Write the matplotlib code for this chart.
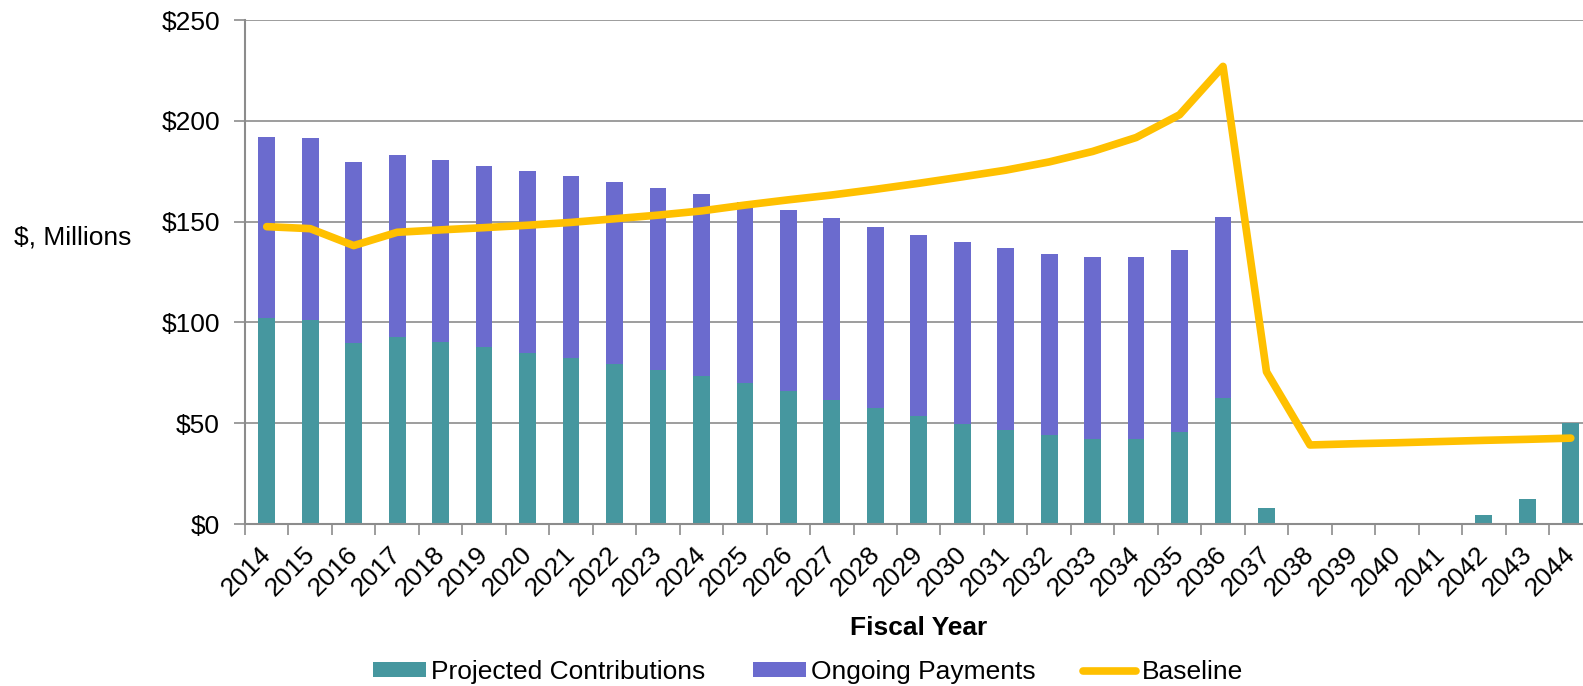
import matplotlib
matplotlib.use("Agg")
import matplotlib.pyplot as plt
import matplotlib.transforms as mtransforms
import numpy as np

plt.rcParams["font.family"] = ["Liberation Sans", "DejaVu Sans"]

years = [str(y) for y in range(2014, 2045)]

projected = [102.2, 101.4, 89.8, 92.8, 90.5, 87.6, 85.0, 82.5, 79.5, 76.6,
             73.6, 69.9, 65.8, 61.7, 57.4, 53.5, 49.7, 46.8, 44.1, 42.3,
             42.3, 45.8, 62.3, 7.9, 0, 0, 0, 0, 4.6, 12.5, 50.0]
ongoing = [90.0, 90.0, 90.0, 90.0, 90.0, 90.0, 90.0, 90.0, 90.0, 90.0,
           90.0, 90.0, 90.0, 90.0, 90.0, 90.0, 90.0, 90.0, 90.0, 90.0,
           90.0, 90.0, 90.0, 0, 0, 0, 0, 0, 0, 0, 0]
baseline = [147.5, 146.5, 138.1, 144.7, 145.9, 147.0, 148.2, 149.6, 151.4, 153.2,
            155.3, 158.2, 160.8, 163.2, 166.0, 169.0, 172.2, 175.5, 179.6, 184.8,
            191.7, 203.0, 227.0, 75.5, 39.2, 39.8, 40.3, 40.9, 41.5, 42.0, 42.6]

teal = "#46979F"
purple = "#6B6BCE"
gold = "#FFC000"
grey = "#8C8C8C"
fs = 19

fig = plt.figure(figsize=(15.83, 6.86), dpi=100)
ax = fig.add_axes([245 / 1583, 1 - 524 / 686, 1347.5 / 1583, 504 / 686])

x = np.arange(len(years))
w = 0.385
b1 = ax.bar(x, projected, w, color=teal, label="Projected Contributions", zorder=2)
b2 = ax.bar(x, ongoing, w, bottom=projected, color=purple, label="Ongoing Payments", zorder=2)
ln, = ax.plot(x, baseline, color=gold, lw=5.5, solid_capstyle="round",
              solid_joinstyle="round", label="Baseline", zorder=3)

ax.set_xlim(-0.5, len(years) - 0.5)
ax.set_ylim(0, 250)
ax.set_yticks(np.arange(0, 251, 50))
ax.set_yticklabels(["$%d" % v for v in range(0, 251, 50)], fontsize=fs)
ax.yaxis.grid(True, color=grey, lw=1.2, zorder=0)
ax.tick_params(axis="y", length=8, width=1.2, color=grey, pad=10)

ax.set_xticks(x)
ax.set_xticklabels(years, rotation=45, ha="right", rotation_mode="anchor", fontsize=fs)
ax.tick_params(axis="x", which="major", length=0, pad=13)
ax.set_xticks(np.arange(-0.5, len(years), 1), minor=True)
ax.tick_params(axis="x", which="minor", length=8, width=1.2, color=grey)

# nudge the rotated year labels a little to the left
shift = mtransforms.ScaledTranslation(-8 / 100, 0, fig.dpi_scale_trans)
for lab in ax.get_xticklabels():
    lab.set_transform(lab.get_transform() + shift)

for s in ["top", "right"]:
    ax.spines[s].set_visible(False)
for s in ["left", "bottom"]:
    ax.spines[s].set_color(grey)
    ax.spines[s].set_linewidth(1.5)

ax.set_xlabel("Fiscal Year", fontsize=fs, fontweight="bold")
ax.xaxis.set_label_coords(0.5, -0.206)
ax.xaxis.label.set_va("center")

fig.text(14 / 1583, 1 - 238 / 686, "$, Millions", fontsize=fs, ha="left", va="center")

fig.legend([b1, b2, ln], ["Projected Contributions", "Ongoing Payments", "Baseline"],
           loc="center", bbox_to_anchor=(808 / 1583, 1 - 672 / 686), ncol=3,
           frameon=False, fontsize=fs, handlelength=2.0, handleheight=0.5,
           handletextpad=0.2, columnspacing=1.8)

fig.savefig("out.png", dpi=100)
